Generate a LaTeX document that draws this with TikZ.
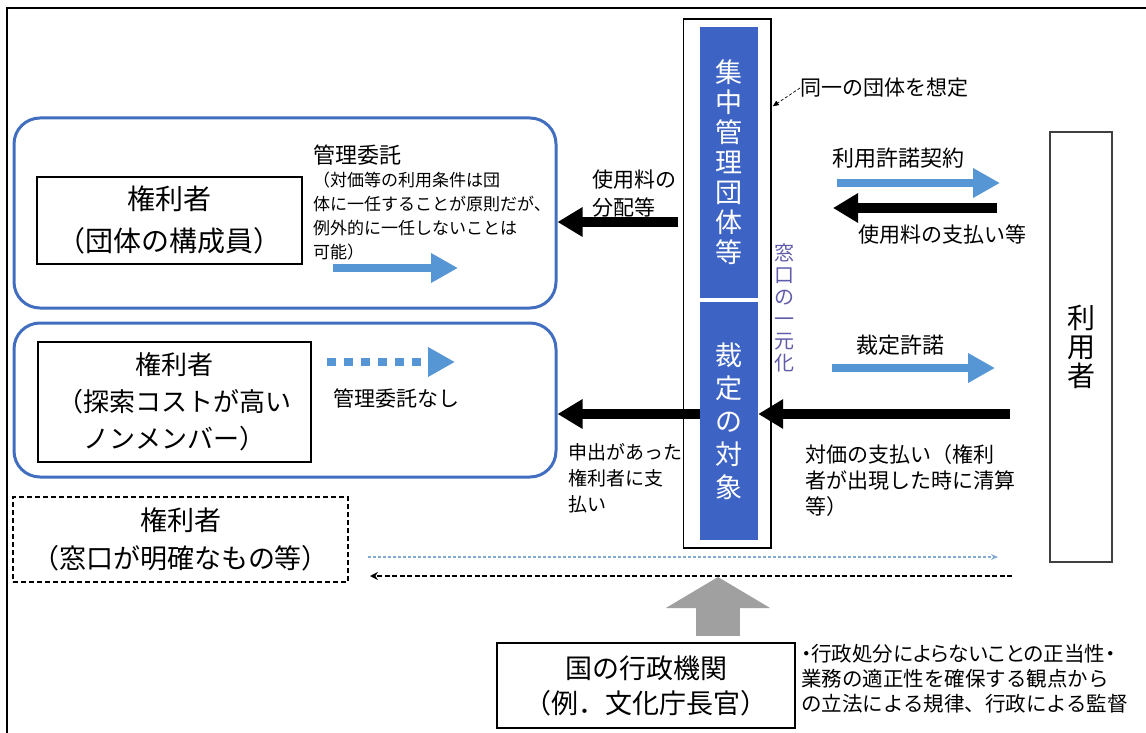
\documentclass[tikz,border=0pt]{standalone}
\usepackage{fontspec}
\setmainfont{Noto Sans CJK JP}
\usetikzlibrary{arrows.meta,calc}

\definecolor{barblue}{RGB}{61,100,196}
\definecolor{grpblue}{RGB}{66,110,192}
\definecolor{argblue}{RGB}{86,150,212}
\definecolor{dotblue}{RGB}{130,170,210}
\definecolor{madoblue}{RGB}{96,92,170}
\definecolor{gyogray}{RGB}{160,160,160}

\newcommand{\fs}[2]{\fontsize{#1}{#2}\selectfont}

\tikzset{
  grpbox/.style={draw=grpblue, line width=3pt, rounded corners=26pt},
  kenri/.style={draw, line width=1.4pt, align=center, inner sep=0pt},
  lbl/.style={inner sep=0pt, align=left},
  blkarrow/.style={line width=10pt, -{Triangle[length=25pt,width=28pt]}},
  bluarrow/.style={argblue, line width=8pt, -{Triangle[length=27pt,width=28pt]}},
}

\begin{document}
\begin{tikzpicture}[x=1pt, y=-1pt]
    \useasboundingbox (0, 0) rectangle (1146, 733);
    \draw [line width=2.5pt] (7, 733) -- (7, 8) -- (1146, 8);

    \node (kumiai) [grpbox, minimum width=542pt, minimum height=190pt] at (285, 213) {};
    \node (nonmem) [grpbox, minimum width=542pt, minimum height=154pt] at (285, 400) {};

    \node (kenriA) [kenri, minimum width=265pt, minimum height=87pt, font=\fs{28}{42}] at (169.5, 220.5) {権利者\\（団体の構成員）};
    \node (kenriB) [kenri, minimum width=273pt, minimum height=120pt, font=\fs{26}{37}] at (174.5, 402) {権利者\\（探索コストが高い\\ノンメンバー）};
    \node (kenriC) [kenri, dash pattern=on 5pt off 3pt, minimum width=335pt, minimum height=85pt, font=\fs{27}{38}] at (180.5, 539.5) {権利者\\（窓口が明確なもの等）};

    \node (ctrbox) [draw, line width=1.5pt, minimum width=87.5pt, minimum height=529pt] at (727.25, 283.5) {};
    \node (shuchu) [fill=barblue, text=white, align=center, minimum width=58pt, minimum height=271pt, font=\fs{27}{30}] at (729, 162.5) {集\\中\\管\\理\\団\\体\\等};
    \node (saitei) [fill=barblue, text=white, align=center, minimum width=58pt, minimum height=238pt, font=\fs{27}{33}] at (729, 421) {裁\\定\\の\\対\\象};
    \node (madoguchi) [lbl, align=center, text=madoblue, font=\fs{20}{22}] at (784, 308) {窓\\口\\の\\一\\元\\化};

    \node (riyosha) [draw=black!75, line width=1.5pt, minimum width=62pt, minimum height=430pt, align=center, font=\fs{28}{29}] at (1081, 347) {利\\用\\者};
    \node (gyosei) [kenri, minimum width=298pt, minimum height=85pt, font=\fs{27}{35}] at (646, 685.5) {国の行政機関\\（例．文化庁長官）};

    \node (soutei) [lbl, anchor=west, font=\fs{21}{21}] at (800, 88) {同一の団体を想定};
    \coordinate (sametip) at ($(ctrbox.north east) + (1, 88)$);
    \draw [densely dashed, line width=0.7pt, -{Triangle[length=6pt,width=5pt]}] (soutei.west) -- (sametip);

    \node (kyodaku) [lbl, font=\fs{22}{22}] at (898, 158) {利用許諾契約};
    \node (shiharai) [lbl, font=\fs{21}{21}] at (942, 235) {使用料の支払い等};
    \coordinate (kyoL) at (837, 183);
    \draw [bluarrow] (kyoL) -- ++(163, 0);
    \coordinate (shiR) at (997, 208);
    \draw [blkarrow] (shiR) -- ++(-164, 0);

    \node (haibun) [lbl, anchor=north west, font=\fs{21}{28}] at (592, 169.5) {使用料の\\分配等};
    \coordinate (haibunR) at (678, 222);
    \draw [blkarrow] (haibunR) -- (haibunR -| kumiai.east);

    \node (kanri) [lbl, anchor=west, font=\fs{22}{22}] at (313, 155) {管理委託};
    \node (kanrinote) [lbl, anchor=north west, font=\fs{17}{24}] at (313, 171.5) {（対価等の利用条件は団\\体に一任することが原則だが、\\例外的に一任しないことは\\可能）};
    \coordinate (itakuL) at (333, 268);
    \draw [bluarrow] (itakuL) -- ++(125, 0);

    \coordinate (nashiL) at (327, 362);
    \draw [bluarrow, dash pattern=on 9pt off 8pt] (nashiL) -- ++(128, 0);
    \node (nashi) [lbl, anchor=west, font=\fs{21}{21}] at (333, 398) {管理委託なし};

    \node (saikyo) [lbl, font=\fs{22}{22}] at (900, 345) {裁定許諾};
    \coordinate (saikyoL) at (832, 368);
    \draw [bluarrow] (saikyoL) -- ++(163, 0);
    \coordinate (taikaR) at (1010, 414);
    \draw [blkarrow] (taikaR) -- (taikaR -| saitei.east);
    \draw [blkarrow] (taikaR -| saitei.west) -- (taikaR -| nonmem.east);

    \node (moshide) [lbl, anchor=north west, font=\fs{19}{26}] at (568, 443.5) {申出があった\\権利者に支\\払い};
    \node (taika) [lbl, anchor=north west, font=\fs{21}{26}] at (805, 444.5) {対価の支払い（権利\\者が出現した時に清算\\等）};

    \coordinate (usuL) at (368, 557);
    \draw [dotblue, line width=1.5pt, dash pattern=on 3pt off 2pt, -{Stealth[length=7pt,width=6pt]}] (usuL) -- ++(630, 0);
    \coordinate (kuroR) at (1012, 576);
    \draw [line width=2.2pt, dash pattern=on 5pt off 2.5pt, -{Stealth[length=8pt,width=8pt]}] (kuroR) -- ++(-642, 0);

    \coordinate (gyotip) at (718, 577);
    \draw [gyogray, line width=44pt, -{Triangle[length=31pt,width=103pt]}] ($(gyosei.north -| gyotip) + (0, -6)$) -- (gyotip);

    \node (kanshi) [lbl, anchor=north west, font=\fs{20.5}{25}] at (801, 644.5) {{\addfontfeature{RawFeature=+palt}・行政処分によらないことの正当性・}\\業務の適正性を確保する観点から\\の立法による規律、行政による監督};
\end{tikzpicture}
\end{document}
